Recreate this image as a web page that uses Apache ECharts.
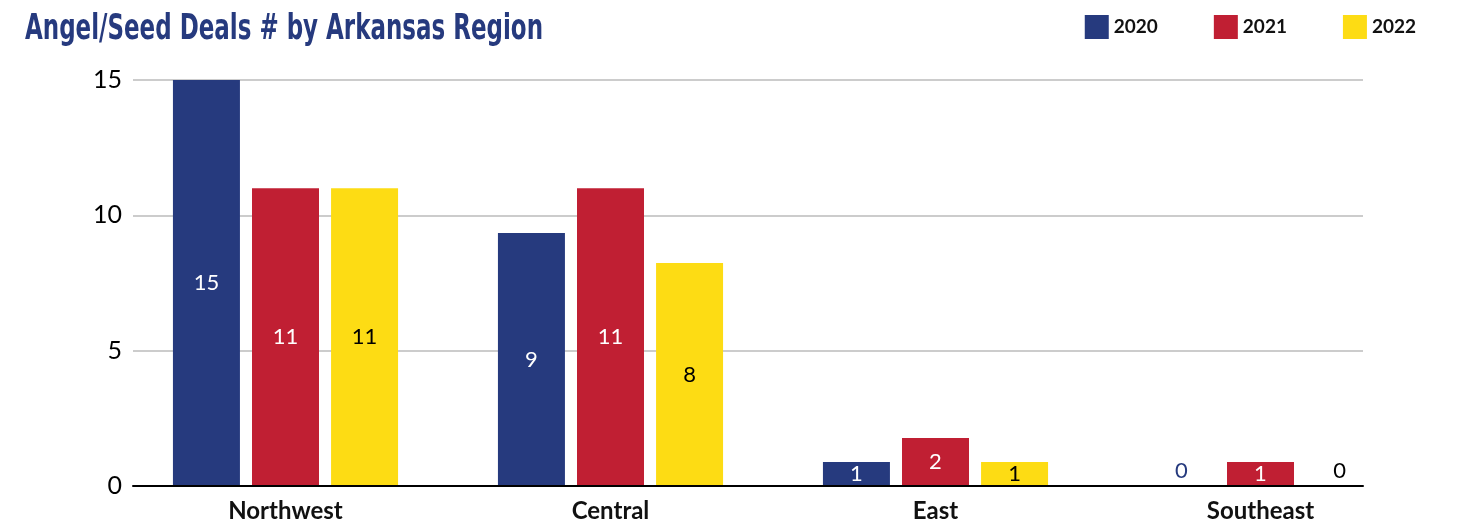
<!DOCTYPE html>
<html>
<head>
<meta charset="utf-8">
<script src="https://cdn.jsdelivr.net/npm/echarts@6/dist/echarts.min.js"></script>
<style>
  html, body {margin:0; padding:0; background:#fff;}
  #chart {width:1463px; height:523px;}
</style>
</head>
<body>
<div id="chart"></div>
<script>
// regions and years
var regions = ['Northwest', 'Central', 'East', 'Southeast'];
var years = ['2020', '2021', '2022'];
// bar heights (labels show them rounded)
var deals2020 = [15, 9.35, 0.89, 0];
var deals2021 = [11, 11, 1.77, 0.89];
var deals2022 = [11, 8.24, 0.89, 0];
var yTicks = {min: 0, max: 15, interval: 5};

var colors = ['#263a7e', '#c01f33', '#fddc14'];
var labelColors = ['#ffffff', '#ffffff', '#000000'];
var zeroColors = ['#263a7e', '#263a7e', '#000000'];

var titleText = 'Angel/Seed Deals # by Arkansas Region';
var titleFont = 'bold 35px "DejaVu Sans Condensed", "DejaVu Sans", sans-serif';

// squeeze the title to the width it has in the reference (condensed face)
function titleScale(){
    var ctx = document.createElement('canvas').getContext('2d');
    ctx.font = titleFont;
    return 518 / ctx.measureText(titleText).width;
}

function makeData(arr, idx){
    return arr.map(function(v){
        if (v === 0) {
            return {value: v, label: {position: 'top', distance: 4, color: zeroColors[idx]}};
        }
        return v;
    });
}

function makeSeries(name, arr, idx){
    return {
        name: name, type: 'bar',
        xAxisIndex: 1, yAxisIndex: 1,
        barWidth: 67, barGap: '18%',
        itemStyle: {color: colors[idx]},
        label: {show: true, position: 'inside', color: labelColors[idx],
                fontFamily: 'Lato', fontSize: 22,
                formatter: function(p){ return Math.round(p.value); }},
        data: makeData(arr, idx)
    };
}

var chart = echarts.init(document.getElementById('chart'));
chart.setOption({
    animation: false,
    color: colors,
    graphic: [{
        type: 'text', left: 25, top: 12, scaleX: titleScale(),
        style: {text: titleText, font: titleFont, fill: '#263a7e'}
    }],
    legend: {
        data: years, right: 42, top: 10,
        itemWidth: 24, itemHeight: 24, itemGap: 56,
        icon: 'rect',
        textStyle: {fontFamily: 'Lato', fontWeight: 'bold', fontSize: 19, color: '#111'}
    },
    // grid 0: gridlines, y labels and base line; grid 1: the bars themselves
    grid: [
        {left: 133, right: 100, top: 80, bottom: 37},
        {left: 123, right: 40, top: 80, bottom: 37}
    ],
    xAxis: [{
        gridIndex: 0, type: 'category', data: regions,
        axisTick: {show: false}, axisLabel: {show: false},
        axisLine: {lineStyle: {color: '#000', width: 2}}, z: 5
    }, {
        gridIndex: 1, type: 'category', data: regions,
        axisTick: {show: false}, axisLine: {show: false},
        axisLabel: {fontFamily: 'Lato', fontWeight: 'bold', fontSize: 24, color: '#111', margin: 13}
    }],
    yAxis: [{
        gridIndex: 0, type: 'value', min: yTicks.min, max: yTicks.max, interval: yTicks.interval,
        axisLine: {show: false}, axisTick: {show: false},
        splitLine: {lineStyle: {color: '#cccccc', width: 2}},
        axisLabel: {fontFamily: 'Lato', fontSize: 25, color: '#000', margin: 11}
    }, {
        gridIndex: 1, type: 'value', min: yTicks.min, max: yTicks.max, interval: yTicks.interval,
        axisLine: {show: false}, axisTick: {show: false},
        splitLine: {show: false}, axisLabel: {show: false}
    }],
    series: [
        makeSeries(years[0], deals2020, 0),
        makeSeries(years[1], deals2021, 1),
        makeSeries(years[2], deals2022, 2)
    ]
});
</script>
</body>
</html>
